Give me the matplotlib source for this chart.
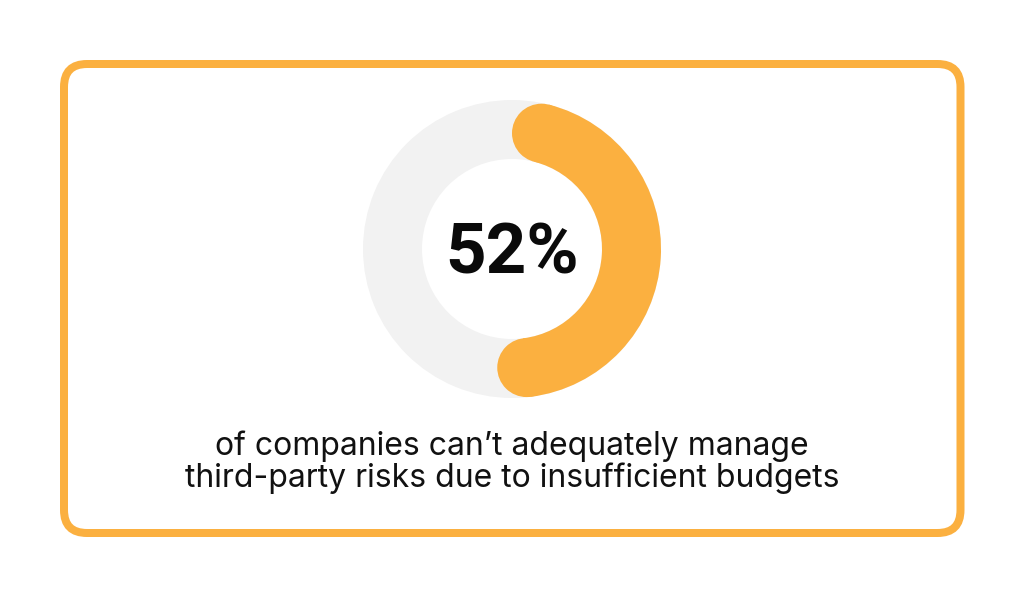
import numpy as np
import matplotlib
matplotlib.use("Agg")
import matplotlib.pyplot as plt
from matplotlib.patches import FancyBboxPatch, Wedge, Circle

# Data
share_pct = 52
headline = f"{share_pct}%"
caption_lines = [
    "of companies can\u2019t adequately manage",
    "third-party risks due to insufficient budgets",
]

ORANGE = "#FBB040"
TRACK = "#F2F2F2"
W, H = 1024, 597

fig = plt.figure(figsize=(W / 100, H / 100), dpi=100)
ax = fig.add_axes([0, 0, 1, 1])
ax.set_xlim(0, W)
ax.set_ylim(0, H)
ax.axis("off")

def fy(y):
    """Convert a top-down pixel row into axes y."""
    return H - y

# Rounded frame
x0, y0, x1, y1 = 64, 64, 960.5, 533
frame = FancyBboxPatch((x0, fy(y1)), x1 - x0, y1 - y0,
                       boxstyle="round,pad=0,rounding_size=23",
                       facecolor="white", edgecolor=ORANGE, linewidth=8 * 0.72)
ax.add_patch(frame)

# Donut
cx, cy = 512, fy(249)
r_out, r_in = 149, 90
width = r_out - r_in
r_mid = (r_out + r_in) / 2
half_w = width / 2

ax.add_patch(Wedge((cx, cy), r_out, 0, 360, width=width, facecolor=TRACK, edgecolor="none"))

# Orange arc spans share_pct of the ring (round caps included), clockwise from 12 o'clock
span = 360 * share_pct / 100
cap = np.degrees(np.arcsin(half_w / r_mid))
t_start, t_end = cap, span - cap
theta1, theta2 = 90 - t_end, 90 - t_start
ax.add_patch(Wedge((cx, cy), r_out, theta1, theta2, width=width, facecolor=ORANGE, edgecolor="none"))
for th in (theta1, theta2):
    a = np.radians(th)
    ax.add_patch(Circle((cx + r_mid * np.cos(a), cy + r_mid * np.sin(a)), half_w,
                        facecolor=ORANGE, edgecolor="none"))

# Headline value
ax.text(cx, fy(273), headline, ha="center", va="baseline",
        fontsize=51, fontweight="semibold", family="Roboto", color="#0a0a0a")

# Caption
for yb, line in zip((455, 487), caption_lines):
    ax.text(512, fy(yb), line, ha="center", va="baseline",
            fontsize=23, family="Inter", color="#111111")

fig.savefig("out.png", dpi=100, facecolor="white")
